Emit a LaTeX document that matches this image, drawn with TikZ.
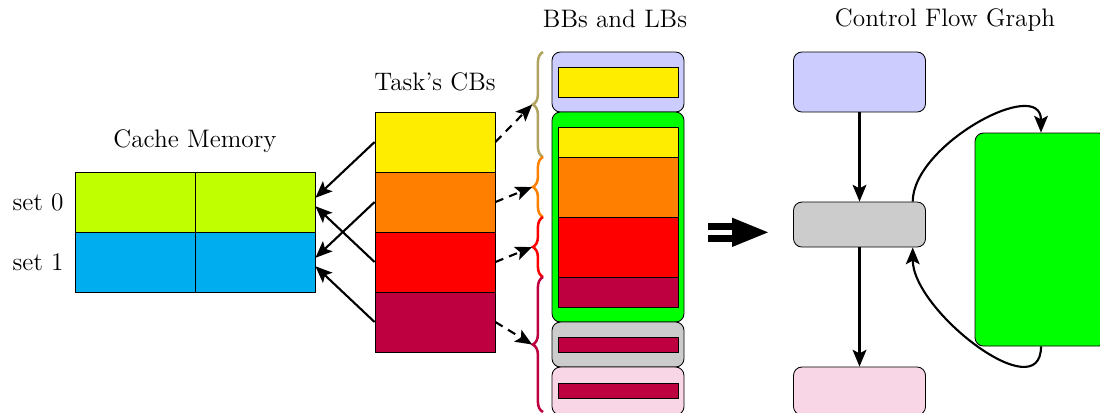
\documentclass[tikz,border=0pt,12pt]{standalone}
\usetikzlibrary{arrows.meta,positioning,decorations.pathreplacing}
\definecolor{cbyellow}{RGB}{255,237,0}
\definecolor{cborange}{RGB}{255,128,0}
\definecolor{cbpurple}{RGB}{191,0,64}
\definecolor{cachelime}{RGB}{191,255,0}
\definecolor{cacheblue}{RGB}{0,174,239}
\definecolor{bblavender}{RGB}{204,204,255}
\definecolor{bbgray}{RGB}{204,204,204}
\definecolor{bbpink}{RGB}{249,214,230}
\definecolor{braceolive}{RGB}{176,164,96}
\tikzset{
  cachecell/.style={draw, minimum width=2cm, minimum height=1cm, inner sep=0pt},
  blk/.style={draw, rounded corners, minimum width=2.2cm, inner sep=0pt},
  bbstrip/.style={draw, minimum width=2cm, inner sep=0pt},
  brc/.style={decorate, decoration={brace, amplitude=0.17cm}, very thick},
  conn/.style={->, line width=1pt}
}
\begin{document}
\begin{tikzpicture}[>={Stealth[length=2.8mm, width=2.3mm, inset=0.6mm]}]
    \useasboundingbox (0,0) rectangle (18.333,6.867);
    \foreach \s/\y/\col in {0/3.5/cachelime, 1/2.5/cacheblue} {
    \node[cachecell, fill=\col] (s\s a) at (2.25,\y) {};
    \node[cachecell, fill=\col] (s\s b) at (4.25,\y) {};
    \node[left=1pt of s\s a] (set\s) {set \s};
    }
    \node (cachetitle) at (3.25,4.52) {Cache Memory};
    \foreach \n/\y/\col in {1/4.5/cbyellow, 2/3.5/cborange, 3/2.5/red, 4/1.5/cbpurple}
    \node[cachecell, fill=\col] (cb\n) at (7.25,\y) {};
    \node (cbtitle) at (7.25,5.5) {Task's CBs};
    \draw[conn] (cb1.west) -- ([yshift=2pt]s0b.east);
    \draw[conn] (cb3.west) -- ([yshift=-2pt]s0b.east);
    \draw[conn] (cb2.west) -- ([yshift=2pt]s1b.east);
    \draw[conn] (cb4.west) -- ([yshift=-2pt]s1b.east);
    \node[blk, fill=bblavender, minimum height=1cm] (bb1) at (10.3,5.5) {};
    \node[blk, fill=green, minimum height=3.5cm] (bb2) at (10.3,3.25) {};
    \node[blk, fill=bbgray, minimum height=0.75cm] (bb3) at (10.3,1.125) {};
    \node[blk, fill=bbpink, minimum height=0.8cm] (bb4) at (10.3,0.35) {};
    \foreach \n/\y/\h/\col in {a/5.5/0.5/cbyellow, b/4.5/0.5/cbyellow, c/3.75/1/cborange, d/2.75/1/red, e/2/0.5/cbpurple, f/1.125/0.25/cbpurple, g/0.35/0.25/cbpurple}
    \node[bbstrip, fill=\col, minimum height=\h cm] (part\n) at (10.3,\y) {};
    \node (bbtitle) at (10.25,6.55) {BBs and LBs};
    \foreach \n/\ya/\yb/\col in {1/4.25/6.0/braceolive, 2/3.25/4.25/cborange, 3/2.25/3.25/red, 4/0/2.25/cbpurple} {
    \draw[brc, \col] (9.05,\ya) -- (9.05,\yb);
    \coordinate (tip\n) at (8.87,{(\ya+\yb)/2});
    \draw[conn, dash pattern=on 4pt off 3pt] (cb\n.east) -- (tip\n);
    }
    \fill (11.8,3.04) rectangle (12.22,3.15);
    \fill (11.8,2.84) rectangle (12.22,2.95);
    \fill (12.2,3.24) -- (12.8,2.995) -- (12.2,2.75) -- cycle;
    \node[blk, fill=bblavender, minimum height=1cm] (cfg1) at (14.325,5.5) {};
    \node[blk, fill=bbgray, minimum height=0.75cm] (cfg2) at (14.325,3.125) {};
    \node[blk, fill=green, minimum height=3.55cm] (cfg3) at (17.35,2.875) {};
    \node[blk, fill=bbpink, minimum height=0.8cm] (cfg4) at (14.325,0.35) {};
    \node (cfgtitle) at (15.75,6.53) {Control Flow Graph};
    \draw[conn] (cfg1) -- (cfg2);
    \draw[conn] (cfg2) -- (cfg4);
    \draw[conn] ([xshift=-0.22cm]cfg2.north east) to[out=90, in=90] (cfg3.north);
    \draw[conn] (cfg3.south) to[out=-90, in=-90] ([xshift=-0.22cm]cfg2.south east);
\end{tikzpicture}
\end{document}
